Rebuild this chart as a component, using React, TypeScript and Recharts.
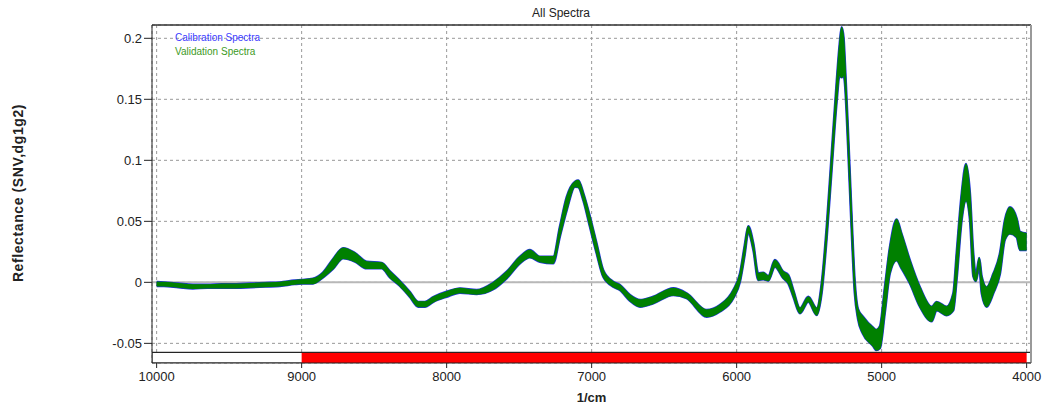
import { ComposedChart, Area, XAxis, YAxis, CartesianGrid, ReferenceLine, ReferenceArea } from 'recharts';

// wavenumber (1/cm) sampled along the spectra bundle
const wavenumbers = [
    10000, 9950, 9850, 9750, 9650, 9550, 9450, 9350, 9250, 9150, 9050, 9000, 8922, 8853, 8784, 8714, 8632, 8552,
    8448, 8391, 8322, 8253, 8196, 8150, 8092, 8000, 7908, 7793, 7679, 7586, 7494, 7426, 7357, 7265, 7219, 7172,
    7115, 7092, 7057, 7012, 6966, 6920, 6851, 6805, 6736, 6666, 6575, 6437, 6345, 6207, 6115, 6023, 5977, 5945,
    5920, 5885, 5851, 5816, 5782, 5736, 5678, 5644, 5609, 5563, 5506, 5448, 5414, 5379, 5345, 5310, 5290, 5276,
    5262, 5255, 5232, 5209, 5186, 5163, 5130, 5060, 5037, 5012, 4978, 4943, 4897, 4863, 4805, 4736, 4655, 4621,
    4552, 4506, 4483, 4448, 4418, 4391, 4368, 4350, 4327, 4310, 4276, 4230, 4184, 4150, 4115, 4069, 4046, 4000,
];

// upper edge of the spectra bundle
const bandUpper = [
    0.0003, 0.0, -0.001, -0.002, -0.002, -0.0015, -0.0015, -0.001, -0.0005, 0.0, 0.0015, 0.002, 0.003, 0.008, 0.019, 0.028, 0.024, 0.0169,
    0.016, 0.009, 0.001, -0.008, -0.016, -0.016, -0.012, -0.0077, -0.005, -0.0063, -0.0003, 0.0087, 0.021, 0.0265, 0.021, 0.021, 0.0457, 0.07,
    0.0825, 0.0835, 0.073, 0.054, 0.032, 0.01, 0.0005, -0.0022, -0.0104, -0.0145, -0.0118, -0.0049, -0.009, -0.0227, -0.0186, -0.0063, 0.0074, 0.03,
    0.0461, 0.032, 0.0074, 0.0079, 0.0052, 0.0183, 0.0087, 0.006, -0.0063, -0.0213, -0.0118, -0.0213, -0.001, 0.046, 0.105, 0.165, 0.195, 0.209,
    0.2, 0.185, 0.125, 0.06, 0.002, -0.022, -0.028, -0.037, -0.039, -0.036, -0.004, 0.029, 0.0516, 0.04, 0.018, -0.004, -0.02, -0.016,
    -0.02, -0.009, 0.024, 0.073, 0.097, 0.073, 0.024, 0.006, 0.02, 0.005, -0.004, 0.007, 0.024, 0.051, 0.0615, 0.0525, 0.0415, 0.04,
];

// lower edge of the spectra bundle
const bandLower = [
    -0.003, -0.003, -0.004, -0.005, -0.0045, -0.0045, -0.0045, -0.004, -0.0035, -0.003, -0.0015, -0.001, -0.001, 0.004, 0.011, 0.0197, 0.017, 0.0115,
    0.0115, 0.004, -0.003, -0.012, -0.02, -0.02, -0.016, -0.0118, -0.0085, -0.0096, -0.0057, 0.0033, 0.0156, 0.0205, 0.0169, 0.0156, 0.0375, 0.059,
    0.0784, 0.078, 0.067, 0.0455, 0.0238, 0.0046, -0.0036, -0.0063, -0.0151, -0.02, -0.0172, -0.0104, -0.013, -0.0282, -0.024, -0.0131, 0.0005, 0.022,
    0.0407, 0.0265, 0.0019, 0.0025, 0.0013, 0.0128, 0.0033, -0.0008, -0.0118, -0.0254, -0.0159, -0.0268, -0.009, 0.036, 0.092, 0.148, 0.17, 0.168,
    0.17, 0.165, 0.112, 0.048, -0.008, -0.03, -0.042, -0.052, -0.0555, -0.054, -0.025, 0.0074, 0.018, 0.0115, -0.001, -0.02, -0.032, -0.023,
    -0.027, -0.023, 0.002, 0.051, 0.067, 0.051, 0.005, 0.001, 0.013, -0.009, -0.02, -0.009, 0.007, 0.035, 0.04, 0.037, 0.0265, 0.0265,
];

const xTicks = [10000, 9000, 8000, 7000, 6000, 5000, 4000];
const xMinorTicks = [
    10000, 9800, 9600, 9400, 9200, 9000, 8800, 8600, 8400, 8200, 8000, 7800, 7600, 7400, 7200, 7000,
    6800, 6600, 6400, 6200, 6000, 5800, 5600, 5400, 5200, 5000, 4800, 4600, 4400, 4200, 4000,
];
const yTicks = [-0.05, 0, 0.05, 0.1, 0.15, 0.2];
const yMinorTicks = [
    -0.05, -0.04, -0.03, -0.02, -0.01, 0, 0.01, 0.02, 0.03, 0.04, 0.05, 0.06, 0.07, 0.08, 0.09, 0.1,
    0.11, 0.12, 0.13, 0.14, 0.15, 0.16, 0.17, 0.18, 0.19, 0.2, 0.21,
];
const zeroLine = [0];

// selected region (red bar under the plot)
const regionStart = 9000;
const regionEnd = 4000;

const X_DOMAIN: [number, number] = [3970, 10032];
const Y_DOMAIN: [number, number] = [-0.0661, 0.2109];
const BAR_TOP = -0.0574;

const FONT = 'Arial, "Liberation Sans", sans-serif';

export default function App() {
    const data = wavenumbers.map((wn, i) => ({ wn, band: [bandLower[i], bandUpper[i]] }));
    const tickStyle = { fontSize: 13, fill: '#222', fontFamily: FONT };

    return (
        <div style={{ position: 'absolute', left: 0, top: 0, width: 1045, height: 412, background: '#fff', fontFamily: FONT }}>
            <ComposedChart width={1045} height={412} data={data} margin={{ top: 25, right: 14, bottom: 19, left: 92 }}>
                <CartesianGrid stroke="#999" strokeDasharray="3 3" />
                {/* solid zero line, kept in the grid layer so the spectra cover it */}
                <CartesianGrid stroke="#b8b8b8" strokeWidth={2} vertical={false} horizontalValues={zeroLine} />
                <XAxis
                    dataKey="wn"
                    type="number"
                    domain={X_DOMAIN}
                    reversed
                    allowDataOverflow
                    ticks={xTicks}
                    interval={0}
                    height={30}
                    tickSize={5}
                    tickMargin={4}
                    stroke="#222"
                    tick={tickStyle}
                />
                <XAxis
                    xAxisId="minor"
                    dataKey="wn"
                    type="number"
                    domain={X_DOMAIN}
                    reversed
                    allowDataOverflow
                    ticks={xMinorTicks}
                    interval={0}
                    height={0}
                    tickSize={4}
                    axisLine={false}
                    tick={false}
                    stroke="#222"
                />
                <YAxis
                    type="number"
                    domain={Y_DOMAIN}
                    allowDataOverflow
                    ticks={yTicks}
                    interval={0}
                    width={60}
                    tickSize={8}
                    tickMargin={2}
                    stroke="#222"
                    tick={tickStyle}
                    tickFormatter={(v) => String(v)}
                />
                <YAxis
                    yAxisId="minor"
                    type="number"
                    domain={Y_DOMAIN}
                    allowDataOverflow
                    ticks={yMinorTicks}
                    interval={0}
                    width={0}
                    tickSize={4}
                    axisLine={false}
                    tick={false}
                    stroke="#222"
                />
                {/* calibration spectra (blue) sit under the validation spectra (green) */}
                <Area type="monotone" dataKey="band" stroke="#2233dd" strokeWidth={2.4} fill="#2233dd" fillOpacity={1} isAnimationActive={false} dot={false} activeDot={false} />
                <Area type="monotone" dataKey="band" stroke="#008000" strokeWidth={1.2} fill="#008000" fillOpacity={1} isAnimationActive={false} dot={false} activeDot={false} />
                <ReferenceArea y1={Y_DOMAIN[0]} y2={BAR_TOP} fill="#ffffff" fillOpacity={1} stroke="#222" strokeWidth={1} ifOverflow="hidden" />
                <ReferenceArea x1={regionStart} x2={regionEnd} y1={Y_DOMAIN[0]} y2={BAR_TOP} fill="#ff0000" fillOpacity={1} ifOverflow="hidden" />
                <ReferenceLine y={BAR_TOP} stroke="#222" strokeWidth={1} />
                <ReferenceLine y={Y_DOMAIN[1]} stroke="#333" strokeWidth={1.5} />
                <ReferenceLine x={X_DOMAIN[0]} stroke="#999" strokeWidth={2} />
            </ComposedChart>

            <div style={{ position: 'absolute', left: 0, width: 1122, top: 6, textAlign: 'center', fontSize: 12, color: '#222' }}>All Spectra</div>
            <div style={{ position: 'absolute', left: 175, top: 31, fontSize: 10, lineHeight: '14px' }}>
                <div style={{ color: '#3b3bff' }}>Calibration Spectra</div>
                <div style={{ color: '#3d9a1e' }}>Validation Spectra</div>
            </div>
            <div
                style={{
                    position: 'absolute',
                    left: 18,
                    top: 193,
                    transform: 'translate(-50%, -50%) rotate(-90deg)',
                    whiteSpace: 'nowrap',
                    fontSize: 14,
                    letterSpacing: '0.6px',
                    fontWeight: 'bold',
                    color: '#222',
                }}
            >
                Reflectance (SNV,dg1g2)
            </div>
            <div style={{ position: 'absolute', left: 152, width: 879, top: 390, textAlign: 'center', fontSize: 13, fontWeight: 'bold', color: '#222' }}>1/cm</div>
        </div>
    );
}
